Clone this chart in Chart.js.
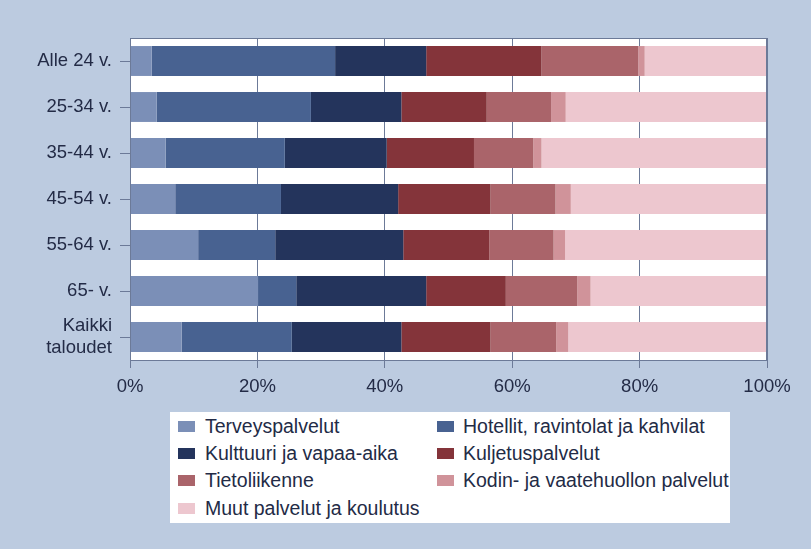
<!DOCTYPE html>
<html lang="fi">

<head>
    <meta charset="utf-8" />
    <script src="https://cdn.jsdelivr.net/npm/chart.js@4.4.1/dist/chart.umd.min.js"></script>

    <style>
        body {
            margin: 0;
            background-color: #bccbe0;
            font-family: "Liberation Sans", Arial, sans-serif;
        }

        .chartCont {
            position: relative;
            width: 811px;
            height: 549px;
        }

        #legendBox {
            position: absolute;
            left: 170px;
            top: 412px;
            width: 560px;
            height: 111px;
            background-color: #ffffff;
            display: grid;
            grid-template-columns: 259px 1fr;
            grid-auto-rows: 27.3px;
            padding-top: 0.5px;
            box-sizing: border-box;
            align-content: start;
        }

        .legendItem {
            display: flex;
            align-items: center;
            font-size: 19.5px;
            color: #232b46;
            white-space: nowrap;
        }

        .legendSwatch {
            flex: none;
            width: 17px;
            height: 11px;
            margin-left: 8px;
            margin-right: 10px;
        }

        .legendItem:nth-child(even) .legendSwatch {
            margin-right: 9px;
        }
    </style>
</head>

<body>
    <div class="chartCont">
        <canvas id="servicesChart" width="811" height="549"></canvas>
        <div id="legendBox"></div>
    </div>

    <script>
        // age groups (top to bottom)
        const ageGroups = ["Alle 24 v.", "25-34 v.", "35-44 v.", "45-54 v.", "55-64 v.", "65- v.", ["Kaikki", "taloudet"]];

        const seriesNames = [
            "Terveyspalvelut",
            "Hotellit, ravintolat ja kahvilat",
            "Kulttuuri ja vapaa-aika",
            "Kuljetuspalvelut",
            "Tietoliikenne",
            "Kodin- ja vaatehuollon palvelut",
            "Muut palvelut ja koulutus"
        ];

        // shares, %
        const terveys = [3.4, 4.2, 5.6, 7.1, 10.7, 20.1, 8.1];
        const hotellit = [28.8, 24.2, 18.7, 16.6, 12.1, 6.0, 17.3];
        const kulttuuri = [14.3, 14.2, 16.0, 18.4, 20.1, 20.4, 17.2];
        const kuljetus = [18.1, 13.4, 13.7, 14.5, 13.5, 12.5, 14.0];
        const tietoliikenne = [15.2, 10.1, 9.3, 10.2, 10.1, 11.2, 10.3];
        const kodin = [1.0, 2.3, 1.3, 2.4, 1.8, 2.1, 1.9];
        const muut = [19.2, 31.6, 35.4, 30.8, 31.7, 27.7, 31.2];

        const xTicks = [0, 20, 40, 60, 80, 100];

        const seriesValues = [terveys, hotellit, kulttuuri, kuljetus, tietoliikenne, kodin, muut];
        const seriesColors = ["#7b8fb7", "#486291", "#24345c", "#84343a", "#aa646a", "#d0939a", "#edc7cf"];

        const textColor = "#232b46";
        const lineColor = "#6c7a98";

        // white plot area + frame
        const plotFrame = {
            id: "plotFrame",
            beforeDraw(chart) {
                const { ctx, chartArea: a } = chart;
                ctx.save();
                ctx.fillStyle = "#ffffff";
                ctx.fillRect(a.left, a.top, a.right - a.left, a.bottom - a.top);
                ctx.restore();
            },
            afterDraw(chart) {
                const { ctx, chartArea: a } = chart;
                ctx.save();
                ctx.strokeStyle = lineColor;
                ctx.lineWidth = 1;
                ctx.strokeRect(a.left + 0.5, a.top + 0.5, a.right - a.left - 1, a.bottom - a.top);
                ctx.restore();
            }
        };

        const ctx = document.getElementById("servicesChart");

        const chart = new Chart(ctx, {
            type: "bar",
            data: {
                labels: ageGroups,
                datasets: seriesNames.map((name, i) => ({
                    label: name,
                    data: seriesValues[i],
                    backgroundColor: seriesColors[i],
                    borderWidth: 0,
                    barPercentage: 0.65,
                    categoryPercentage: 1
                }))
            },
            options: {
                indexAxis: "y",
                responsive: false,
                animation: false,
                layout: {
                    padding: { top: 38, right: 44, left: 0, bottom: 0 }
                },
                plugins: {
                    legend: { display: false },
                    tooltip: { enabled: false }
                },
                scales: {
                    x: {
                        stacked: true,
                        min: 0,
                        max: 100,
                        afterBuildTicks: scale => {
                            scale.ticks = xTicks.map(v => ({ value: v }));
                        },
                        afterFit: scale => {
                            scale.height = 189;
                        },
                        grid: {
                            color: lineColor,
                            lineWidth: 1,
                            tickLength: 8
                        },
                        border: { display: true, color: lineColor },
                        ticks: {
                            callback: v => v + "%",
                            color: textColor,
                            padding: 8,
                            maxRotation: 0,
                            font: { family: "'Liberation Sans', Arial, sans-serif", size: 18.5 }
                        }
                    },
                    y: {
                        stacked: true,
                        afterFit: scale => {
                            scale.width = 130;
                        },
                        grid: {
                            offset: false,
                            drawOnChartArea: false,
                            color: lineColor,
                            tickLength: 10
                        },
                        border: { display: true, color: lineColor },
                        ticks: {
                            color: textColor,
                            padding: 8,
                            font: { family: "'Liberation Sans', Arial, sans-serif", size: 18.5, lineHeight: 1.15 }
                        }
                    }
                }
            },
            plugins: [plotFrame]
        });

        // legend in two columns, built from the chart's datasets
        const legendBox = document.getElementById("legendBox");
        chart.data.datasets.forEach(ds => {
            const item = document.createElement("div");
            item.className = "legendItem";
            const sw = document.createElement("span");
            sw.className = "legendSwatch";
            sw.style.backgroundColor = ds.backgroundColor;
            const txt = document.createElement("span");
            txt.textContent = ds.label;
            item.appendChild(sw);
            item.appendChild(txt);
            legendBox.appendChild(item);
        });
    </script>
</body>

</html>
